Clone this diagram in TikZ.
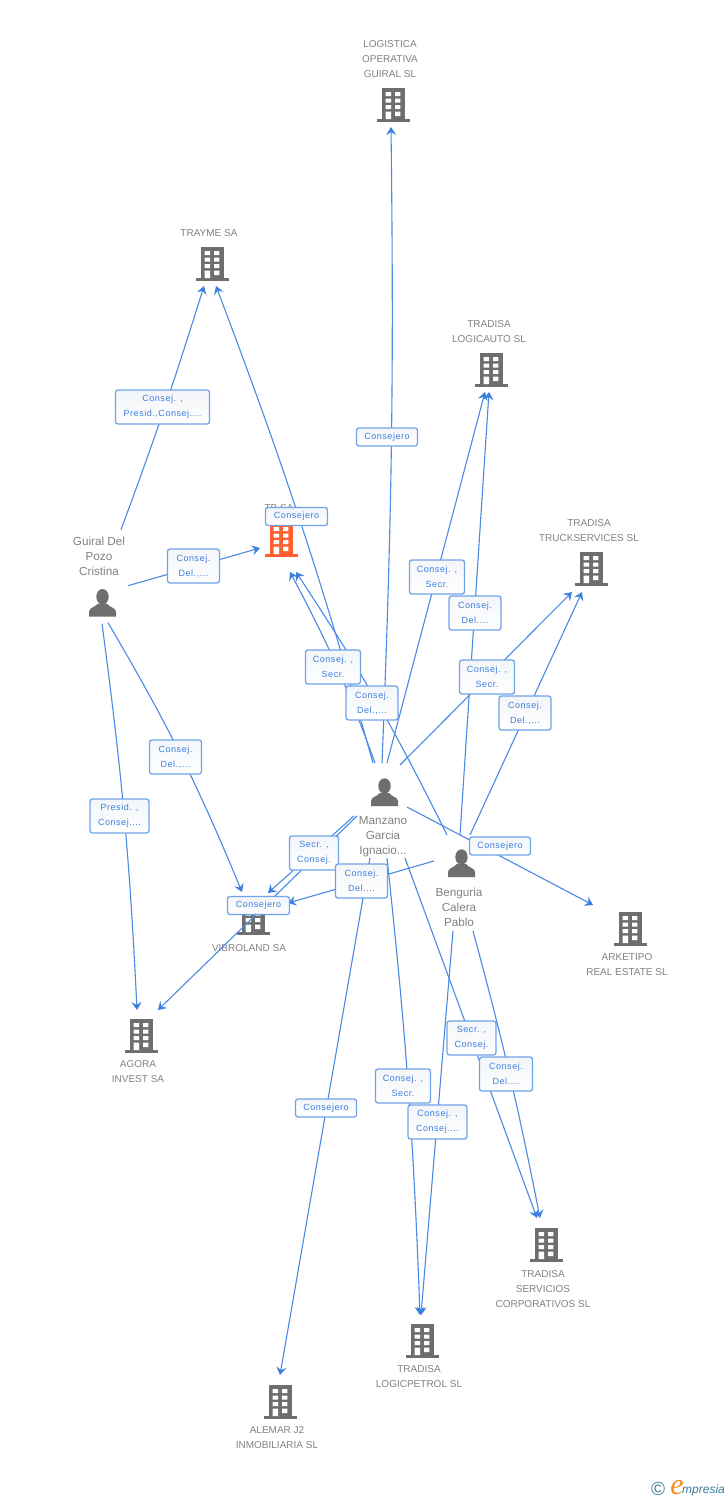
\documentclass[tikz,border=0pt]{standalone}
\usepackage{fontspec}
\setmainfont{Liberation Sans}
\newfontfamily\labfont[LetterSpace=6]{Liberation Sans}
\newfontfamily\logofont{Liberation Serif}
\usetikzlibrary{arrows.meta}
\definecolor{edgeblue}{HTML}{4A8AE4}
\definecolor{tipblue}{HTML}{3B7FE0}
\definecolor{boxblue}{HTML}{6FA3EA}
\definecolor{textblue}{HTML}{3B7FE0}
\definecolor{icongrey}{HTML}{6E6E6E}
\definecolor{namegrey}{HTML}{828282}
\definecolor{orangebld}{HTML}{FF5F2E}
\definecolor{logoteal}{HTML}{3C7C98}
\definecolor{logoorange}{HTML}{F58A1F}
\definecolor{boxtop}{HTML}{F3F5F8}
\tikzset{
  edgeline/.style={draw=edgeblue,line width=1.1pt,-{Stealth[length=8pt,width=10pt,inset=3pt,color=tipblue]}},
  anchorpt/.style={inner sep=0pt,minimum size=0pt,outer sep=0pt},
  cname/.style={inner sep=0pt,align=center,text=namegrey,font=\fontsize{10}{15}\selectfont},
  pname/.style={inner sep=0pt,align=center,text=namegrey,font=\fontsize{11.7}{15}\selectfont},
  rolebox/.style={draw=boxblue,line width=1.3pt,top color=boxtop,bottom color=white,rounded corners=2.5pt,inner sep=0pt,align=center,text=textblue,font=\labfont\fontsize{9}{15}\selectfont},
}
% \tbuilding{name}{x}{y}{colour}
\newcommand\tbuilding[4]{%
  \node[anchorpt] (#1) at (#2,#3) {};
  \begin{scope}[shift={(#2,#3)}]
    \fill[#4] (-11,-17) rectangle (11.7,14);
    \fill[#4] (-16,14) rectangle (16.7,17);
    \fill[white] (-7.3,-13) rectangle (-2,-9) (2,-13) rectangle (7.3,-9)
      (-7.3,-6.3) rectangle (-2,-2.3) (2,-6.3) rectangle (7.3,-2.3)
      (-7.3,0) rectangle (-2,4) (2,0) rectangle (7.3,4)
      (-7.3,6.7) rectangle (-2,14) (2,6.7) rectangle (7.3,11);
  \end{scope}}
% \tperson{name}{x}{y}
\newcommand\tperson[3]{%
  \node[anchorpt] (#1) at (#2,#3) {};
  \begin{scope}[shift={(#2,#3)}]
    \fill[icongrey] (-0.5,-7) ellipse (6.2 and 7.7);
    \fill[icongrey] (-14,13) -- (-14,8) .. controls (-14,4) and (-8,3.5) .. (-5,0) -- (4,0)
      .. controls (6,3.5) and (13,4) .. (13,8) -- (13,13) -- cycle;
  \end{scope}}
% \tconn{A}{dx,dy}{B}{dx,dy}{path operation}
\newcommand\tconn[5]{\draw[edgeline] ([shift={(#2)}]#1.center) #5 ([shift={(#4)}]#3.center);}
% \trole{name}{x}{y}{w}{h}{text}
\newcommand\trole[6]{\node[rolebox,minimum width=#4pt,minimum height=#5pt] (#1) at (#2,#3) {#6};}
\begin{document}
\begin{tikzpicture}[x=1pt,y=-1pt]
\useasboundingbox (0,0) rectangle (728,1500);
\fill[white] (0,0) rectangle (728,1500);
% buildings and names
\tbuilding{LOG}{393}{105}{icongrey}
\tbuilding{TRA}{212}{264}{icongrey}
\tbuilding{TBS}{281}{540}{orangebld}
\tbuilding{LCA}{491}{370}{icongrey}
\tbuilding{TSV}{591}{569}{icongrey}
\tbuilding{VBR}{253}{918}{icongrey}
\tbuilding{ARK}{630}{929}{icongrey}
\tbuilding{AGO}{141}{1036}{icongrey}
\tbuilding{SRV}{546}{1245}{icongrey}
\tbuilding{LPT}{422}{1341}{icongrey}
\tbuilding{ALE}{280}{1402}{icongrey}
\node[cname] (nLOG) at (390,59) {LOGISTICA\\OPERATIVA\\GUIRAL SL};
\node[cname] (nTRA) at (209,233) {TRAYME SA};
\node[cname] (nTBS) at (279,508) {TB SA};
\node[cname] (nLCA) at (489,332) {TRADISA\\LOGICAUTO SL};
\node[cname] (nTSV) at (589,531) {TRADISA\\TRUCKSERVICES SL};
\node[cname] (nVBR) at (249,948) {VIBROLAND SA};
\node[cname] (nARK) at (627,965) {ARKETIPO\\REAL ESTATE SL};
\node[cname] (nAGO) at (138,1072) {AGORA\\INVEST SA};
\node[cname] (nSRV) at (543,1289) {TRADISA\\SERVICIOS\\CORPORATIVOS SL};
\node[cname] (nLPT) at (419,1377) {TRADISA\\LOGICPETROL SL};
\node[cname] (nALE) at (277,1438) {ALEMAR J2\\INMOBILIARIA SL};
% people
\tperson{GUI}{103}{603.7}
\tperson{MAN}{385}{793}
\tperson{BEN}{462}{864}
\node[pname] (nGUI) at (99,556) {Guiral Del\\Pozo\\Cristina};
\node[pname] (nMAN) at (383,837) {Manzano\\Garcia\\Ignacio...};
\node[pname] (nBEN) at (459,907) {Benguria\\Calera\\Pablo};
% connectors
\tconn{MAN}{-3,-30}{LOG}{-2,22}{to[bend right=1.5]}
\tconn{GUI}{18,-74}{TRA}{-8,22}{to[bend right=1.5]}
\tconn{MAN}{-12,-30}{TRA}{4,22}{to[bend right=2.5]}
\tconn{GUI}{25,-18}{TBS}{-21,8}{--}
\tconn{MAN}{-10,-30}{TBS}{9,32}{to[bend right=4]}
\tconn{BEN}{-15,-29}{TBS}{15,32}{to[bend right=3.5]}
\tconn{MAN}{2,-30}{LCA}{-6,22}{--}
\tconn{BEN}{-2,-29}{LCA}{-2,22}{--}
\tconn{MAN}{15,-28}{TSV}{-19,23}{--}
\tconn{BEN}{8,-29}{TSV}{-9,23}{--}
\tconn{MAN}{22,14}{ARK}{-37,-24}{--}
\tconn{MAN}{-31,23}{VBR}{15,-25}{--}
\tconn{MAN}{-28,23}{AGO}{17,-26}{--}
\tconn{BEN}{-28,-3}{VBR}{35,-15}{--}
\tconn{GUI}{5,19}{VBR}{-11,-26}{to[bend left=4]}
\tconn{GUI}{-1,20}{AGO}{-4,-26}{to[bend left=2.4]}
\tconn{MAN}{-15,65}{ALE}{0,-27}{--}
\tconn{MAN}{2,65}{LPT}{-2,-26}{to[bend left=2]}
\tconn{BEN}{-9,67}{LPT}{-1,-26}{--}
\tconn{MAN}{20,65}{SRV}{-9,-27}{--}
\tconn{BEN}{11,67}{SRV}{-6,-27}{to[bend left=2]}
% role labels
\trole{r01}{162.5}{407}{94}{34}{Consej. ,\\Presid.,Consej....}
\trole{r02}{387}{437}{61}{18}{Consejero}
\trole{r03}{296.5}{516.5}{62}{18}{Consejero}
\trole{r04}{193.5}{566}{52}{34}{Consej.\\Del.,...}
\trole{r05}{437}{577}{55}{34}{Consej. ,\\Secr.}
\trole{r06}{475}{613}{52}{34}{Consej.\\Del....}
\trole{r07}{487}{677}{55}{34}{Consej. ,\\Secr.}
\trole{r08}{525}{713}{52}{34}{Consej.\\Del.,...}
\trole{r09}{333}{667}{55}{34}{Consej. ,\\Secr.}
\trole{r10}{372}{703}{52}{34}{Consej.\\Del.,...}
\trole{r11}{175.5}{757}{52}{34}{Consej.\\Del.,...}
\trole{r12}{119.5}{816}{59}{34}{Presid. ,\\Consej....}
\trole{r13}{314}{853}{49}{34}{Secr. ,\\Consej.}
\trole{r14}{361.5}{881}{52}{34}{Consej.\\Del....}
\trole{r15}{500}{846}{61}{18}{Consejero}
\trole{r16}{258.5}{905.5}{62}{18}{Consejero}
\trole{r17}{471.5}{1038}{49}{34}{Secr. ,\\Consej.}
\trole{r18}{506}{1074}{53}{34}{Consej.\\Del....}
\trole{r19}{403}{1086}{55}{34}{Consej. ,\\Secr.}
\trole{r20}{437.5}{1122}{59}{34}{Consej. ,\\Consej....}
\trole{r21}{326}{1108}{61}{18}{Consejero}
% footer mark
\node[inner sep=0pt,text=logoteal,font=\fontsize{19}{19}\selectfont] (fc) at (658,1489) {©};
\node[inner sep=0pt,text=logoorange,font=\logofont\itshape\fontsize{30}{30}\selectfont] (fe) at (677,1488) {e};
\node[inner sep=0pt,anchor=west,text=logoteal,font=\itshape\fontsize{12}{14}\selectfont] (fm) at (682,1490) {mpresia};
\end{tikzpicture}
\end{document}
